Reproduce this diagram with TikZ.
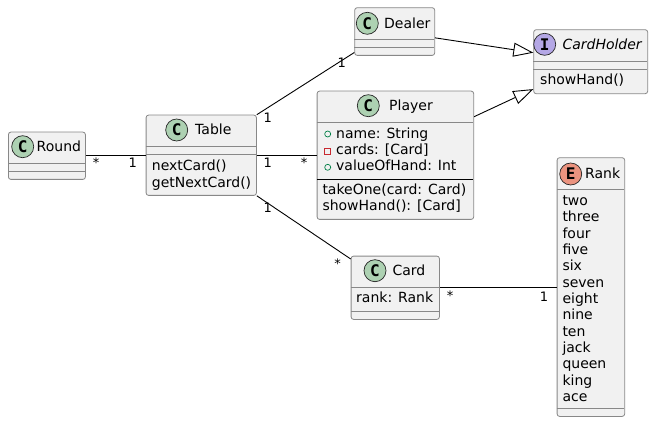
\documentclass[tikz,border=0pt]{standalone}
\usepackage{fontspec}
\setmainfont{DejaVu Sans}
\newfontfamily\iconfont{DejaVu Sans Mono}
\usetikzlibrary{arrows.meta,calc}
\definecolor{boxfill}{HTML}{F1F1F1}
\definecolor{boxline}{HTML}{888888}
\definecolor{cgreen}{HTML}{ADD1B2}
\definecolor{ipurple}{HTML}{B4A7E5}
\definecolor{eorange}{HTML}{EB937F}
\definecolor{pubgreen}{HTML}{038048}
\definecolor{privred}{HTML}{C82930}
\begin{document}
\begin{tikzpicture}[x=1pt,y=-1pt,
  classbox/.style={draw=boxline, line width=0.8pt, fill=boxfill, rounded corners=2.5pt, anchor=north west, inner sep=0pt},
  sepline/.style={draw=boxline, line width=0.8pt},
  icon/.style={circle, draw=black!85, line width=0.7pt, minimum size=22pt, inner sep=0pt, font=\iconfont\bfseries\fontsize{16}{16}\selectfont},
  cname/.style={anchor=base west, inner sep=0pt, font=\fontsize{14}{16}\selectfont},
  member/.style={anchor=base west, inner sep=0pt, font=\fontsize{14}{16}\selectfont},
  mult/.style={anchor=base, inner sep=0pt, font=\fontsize{13}{15}\selectfont},
  conn/.style={draw=black, line width=0.9pt},
  inherit/.style={conn, -{Triangle[open, length=20pt, width=14pt, fill=white]}}
]
\useasboundingbox (0,0) rectangle (653,422);

% ---- Round ----
\node[classbox, minimum width=77pt, minimum height=47.3pt] (Round) at (8,131.7) {};
\draw[sepline] (8,163) -- (85,163);
\draw[sepline] (8,171) -- (85,171);
\node[icon, fill=cgreen] (RoundI) at (22.7,146.7) {C};
\node[cname] (RoundN) at (36.5,151.7) {Round};

% ---- Table ----
\node[classbox, minimum width=110.3pt, minimum height=80.3pt] (Table) at (145.7,114.7) {};
\draw[sepline] (145.7,146) -- (256,146);
\draw[sepline] (145.7,154) -- (256,154);
\node[icon, fill=cgreen] (TableI) at (176.7,130) {C};
\node[cname] (TableN) at (195,135) {Table};
\node[member] (TableM1) at (151.7,171) {nextCard()};
\node[member] (TableM2) at (151.7,187.3) {getNextCard()};

% ---- Dealer ----
\node[classbox, minimum width=80pt, minimum height=47.7pt] (Dealer) at (354.3,7.3) {};
\draw[sepline] (354.3,39.3) -- (434.3,39.3);
\draw[sepline] (354.3,47.3) -- (434.3,47.3);
\node[icon, fill=cgreen] (DealerI) at (367.3,23.3) {C};
\node[cname] (DealerN) at (384,28.3) {Dealer};

% ---- CardHolder ----
\node[classbox, minimum width=114pt, minimum height=64pt] (CardHolder) at (533.3,29.3) {};
\draw[sepline] (533.3,61) -- (647.3,61);
\draw[sepline] (533.3,69) -- (647.3,69);
\node[icon, fill=ipurple] (CardHolderI) at (544.7,44.3) {I};
\node[cname, font=\fontsize{14}{16}\selectfont\itshape] (CardHolderN) at (562.3,49.3) {CardHolder};
\node[member] (CardHolderM1) at (540,85) {showHand()};

% ---- Player ----
\node[classbox, minimum width=156.6pt, minimum height=128.3pt] (Player) at (316.7,90.7) {};
\draw[sepline] (316.7,122.7) -- (473.3,122.7);
\draw[draw=black, line width=1pt] (316.7,179.3) -- (473.3,179.3);
\node[icon, fill=cgreen] (PlayerI) at (368.3,105.7) {C};
\node[cname] (PlayerN) at (389,110.2) {Player};
\draw[pubgreen, line width=0.7pt] (327.7,134) circle (3pt);
\draw[privred, line width=0.7pt] (324.7,148) rectangle (330.7,154);
\draw[pubgreen, line width=0.7pt] (327.7,167.3) circle (3pt);
\node[member] (PlayerA1) at (336,138.3) {name: String};
\node[member] (PlayerA2) at (336,154.6) {cards: [Card]};
\node[member] (PlayerA3) at (336,170.9) {valueOfHand: Int};
\node[member] (PlayerM1) at (322.3,194.7) {takeOne(card: Card)};
\node[member] (PlayerM2) at (322.3,211) {showHand(): [Card]};

% ---- Card ----
\node[classbox, minimum width=88.3pt, minimum height=63.3pt] (Card) at (350.7,255.7) {};
\draw[sepline] (350.7,287) -- (439,287);
\draw[sepline] (350.7,311.7) -- (439,311.7);
\node[icon, fill=cgreen] (CardI) at (375,270.7) {C};
\node[cname] (CardN) at (392.3,275.7) {Card};
\node[member] (CardA1) at (356,302.7) {rank: Rank};

% ---- Rank ----
\node[classbox, minimum width=67.6pt, minimum height=258.7pt] (Rank) at (556.7,157.3) {};
\draw[sepline] (556.7,189.3) -- (624.3,189.3);
\draw[sepline] (556.7,408.3) -- (624.3,408.3);
\node[icon, fill=eorange] (RankI) at (570.7,174) {E};
\node[cname] (RankN) at (585,179) {Rank};
\foreach \v [count=\i from 0] in {two,three,four,five,six,seven,eight,nine,ten,jack,queen,king,ace}{
  \node[member] (RankV\i) at (562.3,{205.3+16.36*\i}) {\v};
}

% ---- connectors ----
\draw[conn] (Round.east) -- (Round.east -| Table.west);
\draw[conn] (Table.east) -- (Table.east -| Player.west);
\draw[conn] (Table.north east) -- ([yshift=3.3pt]Dealer.south west);
\draw[conn] (Table.south east) -- ([yshift=-3.3pt]Card.north west);
\draw[conn] (Card.east) -- (Card.east -| Rank.west);
\draw[inherit] ([yshift=-6.3pt]Dealer.east) -- ([yshift=9pt]CardHolder.west);
\draw[inherit] ([yshift=-26pt]Player.north east) -- ([yshift=5pt]CardHolder.south west);

% ---- multiplicities ----
\node[mult] (m1) at (96,168) {*};
\node[mult] (m2) at (132.7,168) {1};
\node[mult] (m3) at (267.7,168) {1};
\node[mult] (m4) at (304,168) {*};
\node[mult] (m5) at (267.7,123) {1};
\node[mult] (m6) at (341.7,68) {1};
\node[mult] (m7) at (267.7,213) {1};
\node[mult] (m8) at (337.7,268.5) {*};
\node[mult] (m9) at (450,300) {*};
\node[mult] (m10) at (544,301.4) {1};
\end{tikzpicture}
\end{document}
